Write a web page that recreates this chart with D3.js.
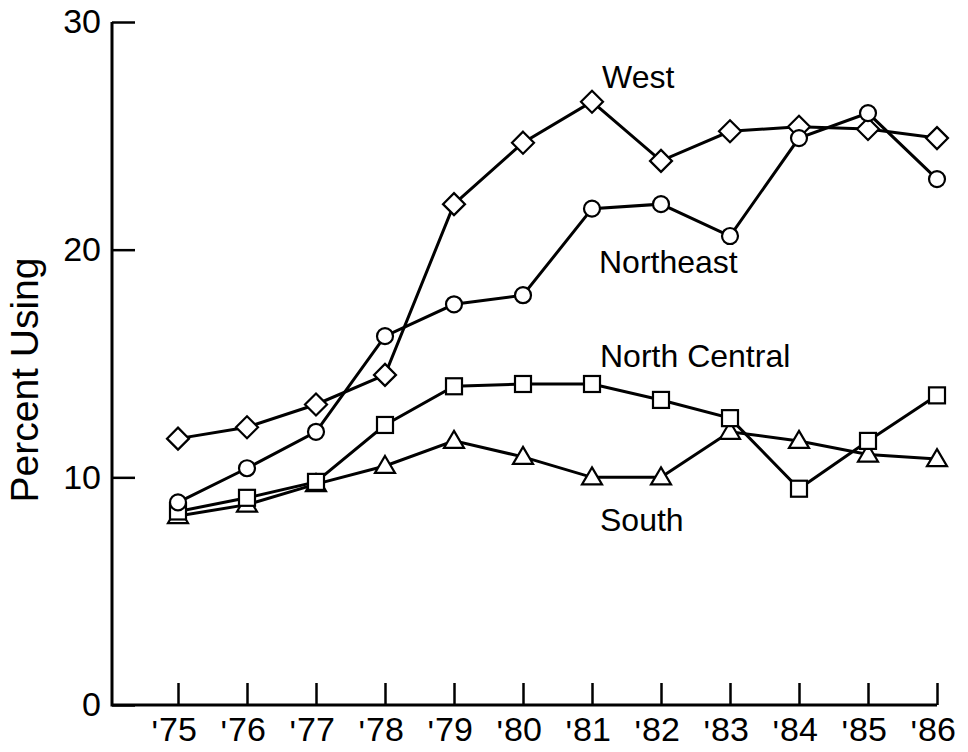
<!DOCTYPE html>
<html>
<head>
<meta charset="utf-8">
<script src="https://cdn.jsdelivr.net/npm/d3@7"></script>
<style>
    body { margin: 0; background: #fff; }
    svg { display: block; font-family: "Liberation Sans", Arial, sans-serif; }
</style>
</head>
<body>
<svg id="chart" width="968" height="752"></svg>
<script>
// data
var years = ["75", "76", "77", "78", "79", "80", "81", "82", "83", "84", "85", "86"];
var yTicks = [0, 10, 20, 30];
var west = [11.7, 12.2, 13.2, 14.5, 22.0, 24.7, 26.5, 23.9, 25.2, 25.4, 25.3, 24.9];
var northeast = [8.9, 10.4, 12.0, 16.2, 17.6, 18.0, 21.8, 22.0, 20.6, 24.9, 26.0, 23.1];
var northCentral = [8.5, 9.1, 9.8, 12.3, 14.0, 14.1, 14.1, 13.4, 12.6, 9.5, 11.6, 13.6];
var south = [8.3, 8.8, 9.7, 10.5, 11.6, 10.9, 10.0, 10.0, 12.0, 11.6, 11.0, 10.8];

var margin = {top: 22, left: 112, bottom: 47};
var svg = d3.select("#chart");
var height = 752 - margin.top - margin.bottom;

var x = d3.scalePoint().domain(years).range([178 - margin.left, 937 - margin.left]);
var y = d3.scaleLinear().domain([0, 30]).range([height, 0]);

var g = svg.append("g")
    .attr("transform", "translate(" + margin.left + "," + margin.top + ")");

// axes
var yAxis = d3.axisLeft(y).tickValues(yTicks).tickSize(-23).tickPadding(11);
var xAxis = d3.axisBottom(x).tickSize(-22).tickFormat("");

g.append("g").attr("class", "axis axis--y").call(yAxis);
g.append("g").attr("class", "axis axis--x")
    .attr("transform", "translate(0," + height + ")")
    .call(xAxis);

g.selectAll(".axis .domain").remove();
g.selectAll(".axis line").attr("stroke", "#000").attr("stroke-width", 2.5);
g.select(".axis--y").selectAll("text")
    .attr("font-size", 34).attr("fill", "#000").attr("font-family", null);

// axis lines
g.append("path")
    .attr("d", "M0," + y(30) + "V" + height + "H" + x(years[years.length - 1]))
    .attr("fill", "none").attr("stroke", "#000").attr("stroke-width", 3);

// year labels with leading tick mark
var xl = g.append("g").attr("class", "xlabels")
    .attr("transform", "translate(0," + (height + 36) + ")");
xl.selectAll(".yr").data(years).enter().append("text")
    .attr("class", "yr")
    .attr("x", d => x(d))
    .attr("text-anchor", "middle")
    .attr("font-size", 34)
    .text(d => d);
xl.selectAll(".ap").data(years).enter().append("text")
    .attr("class", "ap")
    .attr("x", d => x(d) - 20)
    .attr("y", 3)
    .attr("text-anchor", "end")
    .attr("font-size", 34)
    .text("'");

// y title
svg.append("text")
    .attr("transform", "translate(38,380) rotate(-90)")
    .attr("text-anchor", "middle")
    .attr("font-size", 39)
    .text("Percent Using");

// series
var series = [
    {name: "South", values: south, shape: "triangle"},
    {name: "North Central", values: northCentral, shape: "square"},
    {name: "West", values: west, shape: "diamond"},
    {name: "Northeast", values: northeast, shape: "circle"}
];

var line = d3.line()
    .x((d, i) => x(years[i]))
    .y(d => y(d));

function marker(sel, shape) {
    if (shape === "circle") {
        sel.append("circle").attr("r", 8);
    } else if (shape === "square") {
        sel.append("rect").attr("x", -8).attr("y", -8).attr("width", 16).attr("height", 16);
    } else if (shape === "diamond") {
        sel.append("path").attr("d", "M0,-11L11,0L0,11L-11,0Z");
    } else {
        sel.append("path").attr("d", "M0,-10L10,7L-10,7Z");
    }
}

series.forEach(s => {
    var sg = g.append("g").attr("class", "series");
    sg.append("path")
        .datum(s.values)
        .attr("d", line)
        .attr("fill", "none")
        .attr("stroke", "#000")
        .attr("stroke-width", 3);
    var pts = sg.selectAll(".pt").data(s.values).enter().append("g")
        .attr("class", "pt")
        .attr("transform", (d, i) => "translate(" + x(years[i]) + "," + y(d) + ")");
    marker(pts, s.shape);
    pts.selectAll("*").attr("fill", "#fff").attr("stroke", "#000").attr("stroke-width", 2.2);
});

// series labels
var labels = [
    {text: "West", x: 602, y: 88},
    {text: "Northeast", x: 599, y: 273},
    {text: "North Central", x: 600, y: 367},
    {text: "South", x: 600, y: 531}
];
svg.selectAll(".lbl").data(labels).enter().append("text")
    .attr("class", "lbl")
    .attr("x", d => d.x)
    .attr("y", d => d.y)
    .attr("font-size", 32)
    .text(d => d.text);
</script>
</body>
</html>
